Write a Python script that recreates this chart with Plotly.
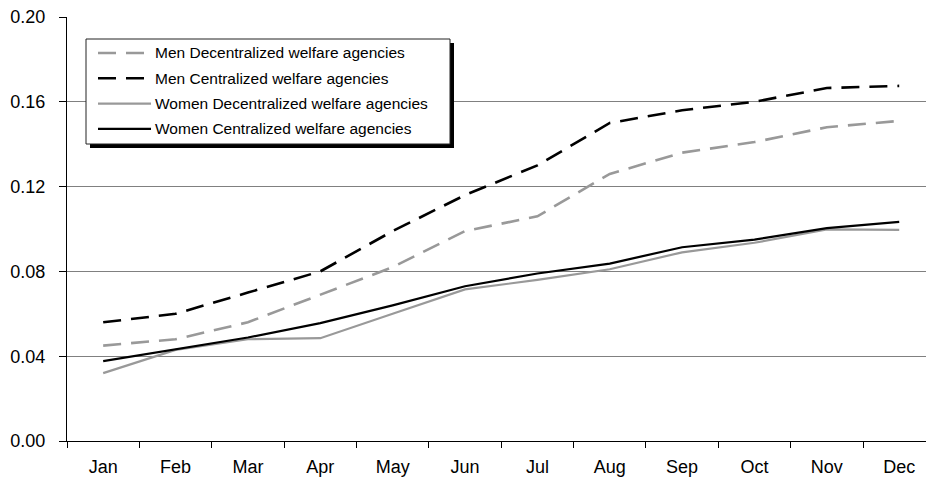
import plotly.graph_objects as go

months = ["Jan", "Feb", "Mar", "Apr", "May", "Jun", "Jul", "Aug", "Sep", "Oct", "Nov", "Dec"]

men_decentralized = [0.045, 0.048, 0.056, 0.069, 0.082, 0.099, 0.106, 0.126, 0.136, 0.141, 0.148, 0.151]
men_centralized = [0.056, 0.060, 0.070, 0.080, 0.099, 0.116, 0.130, 0.150, 0.156, 0.160, 0.1665, 0.1675]
women_decentralized = [0.032, 0.043, 0.048, 0.0485, 0.060, 0.0715, 0.076, 0.081, 0.089, 0.0935, 0.0998, 0.0996]
women_centralized = [0.0377, 0.0433, 0.0488, 0.0556, 0.064, 0.073, 0.079, 0.0837, 0.0914, 0.095, 0.1004, 0.1034]

series_names = [
    "Men Decentralized welfare agencies",
    "Men Centralized welfare agencies",
    "Women Decentralized welfare agencies",
    "Women Centralized welfare agencies",
]
series_values = [men_decentralized, men_centralized, women_decentralized, women_centralized]

GRAY = "#999999"
BLACK = "#000000"
DASH = "18px,10px"
styles = [
    dict(color=GRAY, width=2.6, dash=DASH),
    dict(color=BLACK, width=2.6, dash=DASH),
    dict(color=GRAY, width=2.2, dash="solid"),
    dict(color=BLACK, width=2.2, dash="solid"),
]

W, H = 926, 487
PLOT_L, PLOT_T, PLOT_B = 67, 17, 46
PLOT_W = W - PLOT_L
PLOT_H = H - PLOT_T - PLOT_B


def px_x(p):
    return (p - PLOT_L) / PLOT_W


def px_y(p):
    return (PLOT_T + PLOT_H - p) / PLOT_H


fig = go.Figure()
for name, vals, st in zip(series_names, series_values, styles):
    fig.add_trace(go.Scatter(
        x=months, y=vals, name=name, mode="lines",
        line=st, showlegend=False, hoverinfo="skip",
    ))

FONT = "Liberation Sans, Arial, sans-serif"

# legend panel: drop shadow, white box, line samples and labels
shapes = [
    dict(type="rect", xref="paper", yref="paper", layer="above",
         x0=px_x(90), x1=px_x(454), y0=px_y(148), y1=px_y(43),
         fillcolor="black", line=dict(width=0)),
    dict(type="rect", xref="paper", yref="paper", layer="above",
         x0=px_x(86), x1=px_x(450), y0=px_y(144), y1=px_y(39),
         fillcolor="white", line=dict(color="#222222", width=1)),
]
annotations = []
for i, (name, st) in enumerate(zip(series_names, styles)):
    yy = 53 + 25.3 * i
    shapes.append(dict(type="line", xref="paper", yref="paper", layer="above",
                       x0=px_x(98), x1=px_x(151), y0=px_y(yy), y1=px_y(yy),
                       line=st))
    annotations.append(dict(xref="paper", yref="paper", x=px_x(153), y=px_y(yy),
                            xanchor="left", yanchor="middle", showarrow=False,
                            text=name, font=dict(family=FONT, size=15.5, color="black")))

fig.update_layout(
    width=W, height=H,
    margin=dict(l=PLOT_L, r=0, t=PLOT_T, b=PLOT_B, pad=0),
    paper_bgcolor="white", plot_bgcolor="white",
    font=dict(family=FONT, size=18, color="black"),
    shapes=shapes, annotations=annotations,
    xaxis=dict(
        type="category", range=[-0.5, 11.37],
        showline=True, linecolor="black", linewidth=1,
        ticks="outside", tickson="boundaries", ticklen=6, tickcolor="black",
        showgrid=False, zeroline=False, ticklabelstandoff=9,
        tickfont=dict(family=FONT, size=18),
    ),
    yaxis=dict(
        range=[0, 0.2], dtick=0.04, tickformat=".2f",
        showline=True, linecolor="black", linewidth=1,
        ticks="outside", ticklen=7, tickcolor="black",
        showgrid=True, gridcolor="#808080", gridwidth=1,
        zeroline=False, ticklabelstandoff=10,
        tickfont=dict(family=FONT, size=18),
    ),
)

fig.write_html("out.html")
